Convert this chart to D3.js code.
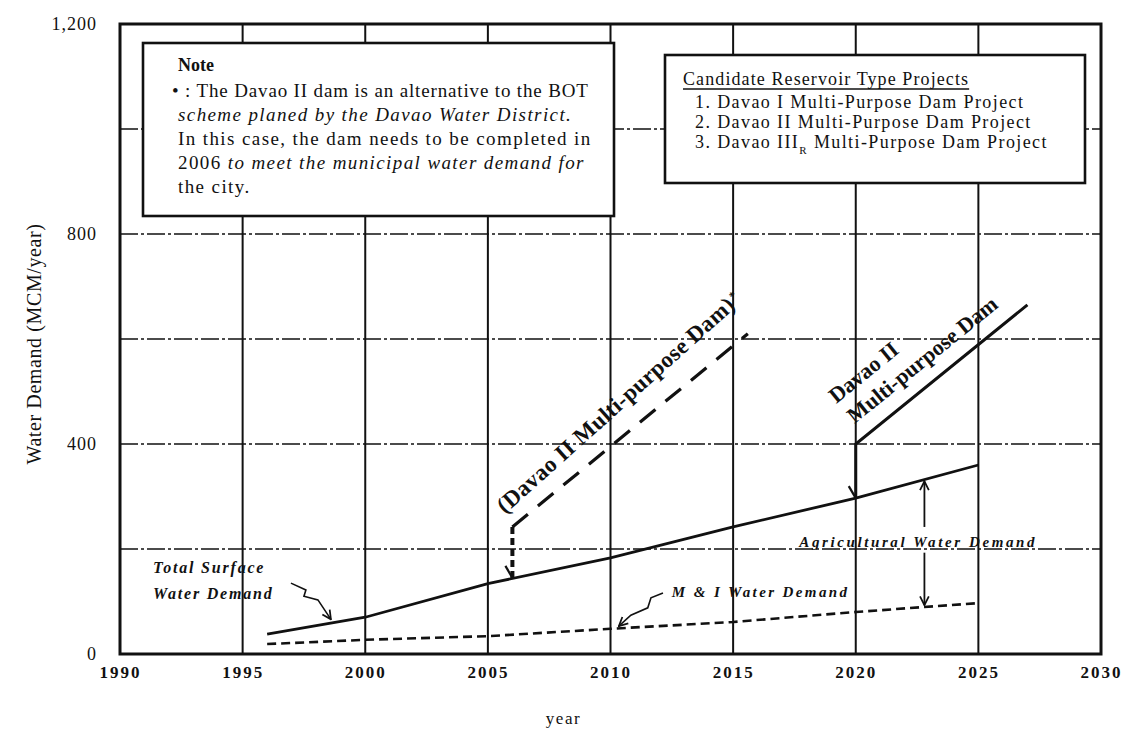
<!DOCTYPE html>
<html>
<head>
<meta charset="utf-8">
<script src="https://cdn.jsdelivr.net/npm/d3@7"></script>
<style>
  body { margin: 0; background: #fff; }
  svg { display: block; }
  text { font-family: "Liberation Serif", "Times New Roman", serif; fill: #111; }
</style>
</head>
<body>
<svg id="chart" width="1129" height="755"></svg>
<script>
// ---- data ----
const xTickYears = [1990, 1995, 2000, 2005, 2010, 2015, 2020, 2025, 2030];
const yTickValues = [0, 400, 800, 1200];
const yGridValues = [200, 400, 600, 800, 1000];

const demandYears = [1996, 2000, 2005, 2010, 2015, 2020, 2025];
const totalSurfaceDemand = [38, 70, 134, 183, 242, 297, 360];
const miDemand = [19, 27, 34, 48, 61, 80, 97];

// Davao II dam as the alternative to the BOT scheme (completed 2006)
const altDamYears = [2006, 2006, 2015.6];
const altDamDemand = [145, 242, 610];

// Davao II multi-purpose dam (2020)
const damYears = [2020, 2020, 2027];
const damDemand = [297, 400, 665];

// squiggly leader arrows, [year, MCM/year]
const totalLeader = [[1996.97, 135], [1997.58, 122], [1997.5, 110], [1998.07, 103], [1998.6, 66]];
const miLeader = [[2012.14, 116], [2011.65, 107], [2011.52, 88], [2010.83, 74], [2010.34, 53]];
// agricultural demand span arrows
const agriYear = 2022.8;
const agriUp = [242, 329];
const agriDown = [193, 93];

const noteTitle = "Note";
const noteLines = [
  [["\u2022 : The  Davao II dam is an alternative to the BOT", false]],
  [["scheme planed by the Davao Water District.", true]],
  [["In this case, the dam needs to be completed in", false]],
  [["2006 ", false], ["to meet the municipal water demand for", true]],
  [["the city.", false]]
];

const projectTitle = "Candidate Reservoir Type Projects";
const projectItems = [
  ["1.  Davao I Multi-Purpose Dam Project", ""],
  ["2.  Davao II Multi-Purpose Dam Project", ""],
  ["3.  Davao III", "R", " Multi-Purpose Dam Project"]
];

// ---- scales ----
const svg = d3.select("#chart");
const x = d3.scaleLinear().domain([1990, 2030]).range([120, 1101]);
const y = d3.scaleLinear().domain([0, 1200]).range([654, 24]);
const ink = "#111";

// arrowhead marker
const defs = svg.append("defs");
defs.append("marker")
  .attr("id", "open-arrow")
  .attr("viewBox", "0 0 10 10")
  .attr("refX", 9).attr("refY", 5)
  .attr("markerWidth", 11).attr("markerHeight", 11)
  .attr("markerUnits", "userSpaceOnUse")
  .attr("orient", "auto")
  .append("path")
  .attr("d", "M1,1 L9,5 L1,9")
  .attr("fill", "none").attr("stroke", ink).attr("stroke-width", 1.6);

// ---- grid ----
svg.append("g").selectAll("line")
  .data(xTickYears.slice(1, -1)).join("line")
  .attr("x1", d => x(d)).attr("x2", d => x(d))
  .attr("y1", y(0)).attr("y2", y(1200))
  .attr("stroke", ink).attr("stroke-width", 2);

svg.append("g").selectAll("line")
  .data(yGridValues).join("line")
  .attr("x1", x(1990)).attr("x2", x(2030))
  .attr("y1", d => y(d)).attr("y2", d => y(d))
  .attr("stroke", ink).attr("stroke-width", 1.4)
  .attr("stroke-dasharray", "18,3,3,3");

// plot frame
svg.append("rect")
  .attr("x", x(1990)).attr("y", y(1200))
  .attr("width", x(2030) - x(1990)).attr("height", y(0) - y(1200))
  .attr("fill", "none").attr("stroke", ink).attr("stroke-width", 3);

// ---- axes ----
const xAxisG = svg.append("g")
  .attr("transform", `translate(0,${y(0)})`)
  .call(d3.axisBottom(x).tickValues(xTickYears).tickSize(0).tickPadding(12).tickFormat(d3.format("d")));
xAxisG.select(".domain").remove();
xAxisG.selectAll("text")
  .attr("font-family", "Liberation Serif").attr("font-size", 17)
  .attr("font-weight", "bold").attr("letter-spacing", 2).attr("fill", ink);

const yAxisG = svg.append("g")
  .attr("transform", `translate(${x(1990)},0)`)
  .call(d3.axisLeft(y).tickValues(yTickValues).tickSize(0).tickPadding(23).tickFormat(d3.format(",")));
yAxisG.select(".domain").remove();
yAxisG.selectAll("text")
  .attr("font-family", "Liberation Serif").attr("font-size", 18)
  .attr("letter-spacing", 1).attr("fill", ink);

svg.append("text")
  .attr("transform", `translate(41,${(y(0) + y(1200)) / 2 + 5}) rotate(-90)`)
  .attr("text-anchor", "middle").attr("font-size", 20).attr("letter-spacing", 0.6)
  .text("Water Demand  (MCM/year)");

svg.append("text")
  .attr("x", (x(1990) + x(2030)) / 2 - 47).attr("y", 724)
  .attr("text-anchor", "middle").attr("font-size", 17).attr("letter-spacing", 1.5)
  .text("year");

// ---- demand lines ----
const line = d3.line().x(d => x(d[0])).y(d => y(d[1]));

svg.append("path")
  .datum(d3.zip(demandYears, totalSurfaceDemand))
  .attr("d", line).attr("fill", "none").attr("stroke", ink).attr("stroke-width", 2.8);

svg.append("path")
  .datum(d3.zip(demandYears, miDemand))
  .attr("d", line).attr("fill", "none").attr("stroke", ink).attr("stroke-width", 2.6)
  .attr("stroke-dasharray", "9,5");

// alternative dam: heavy short-dashed riser then long dashes
const alt = d3.zip(altDamYears, altDamDemand);
svg.append("path").datum(alt.slice(0, 2))
  .attr("d", line).attr("fill", "none").attr("stroke", ink).attr("stroke-width", 4)
  .attr("stroke-dasharray", "7,4");
svg.append("path").datum(alt.slice(1))
  .attr("d", line).attr("fill", "none").attr("stroke", ink).attr("stroke-width", 3.2)
  .attr("stroke-dasharray", "20,13");

// dam: solid riser then line
svg.append("path").datum(d3.zip(damYears, damDemand))
  .attr("d", line).attr("fill", "none").attr("stroke", ink).attr("stroke-width", 3);

// barbs where each riser meets the total demand line
[[altDamYears[0], altDamDemand[0]], [damYears[0], damDemand[0]]].forEach(([yr, v]) => {
  const px = x(yr), py = y(v);
  svg.append("path")
    .attr("d", `M${px - 7},${py - 12} L${px},${py}`)
    .attr("stroke", ink).attr("stroke-width", 2.2).attr("fill", "none");
});

// ---- leader arrows ----
[totalLeader, miLeader].forEach(pts => {
  svg.append("path").datum(pts)
    .attr("d", line).attr("fill", "none").attr("stroke", ink).attr("stroke-width", 1.6)
    .attr("marker-end", "url(#open-arrow)");
});
[agriUp, agriDown].forEach(([a, b]) => {
  svg.append("path").datum([[agriYear, a], [agriYear, b]])
    .attr("d", line).attr("fill", "none").attr("stroke", ink).attr("stroke-width", 1.8)
    .attr("marker-end", "url(#open-arrow)");
});

// ---- curve labels ----
function italicLabel(px, py, txt, size, spacing) {
  svg.append("text").attr("x", px).attr("y", py)
    .attr("font-style", "italic").attr("font-weight", "bold").attr("font-size", size)
    .attr("letter-spacing", spacing).text(txt);
}
italicLabel(x(1991.35), y(154), "Total Surface", 16, 1.8);
italicLabel(x(1991.35), y(104), "Water Demand", 16, 1.8);
italicLabel(x(2012.5), y(108), "M & I Water Demand", 15, 2.4);
italicLabel(x(2017.7), y(204), "Agricultural Water Demand", 15, 2.6);

// rotated dam labels following the line slope
function slopeAngle(xs, vs) {
  return Math.atan2(y(vs[2]) - y(vs[1]), x(xs[2]) - x(xs[1])) * 180 / Math.PI;
}
const altAngle = slopeAngle(altDamYears, altDamDemand) - 2.5;
const altLabel = svg.append("text")
  .attr("transform", `translate(${x(2005.7)},${y(266)}) rotate(${altAngle})`)
  .attr("font-weight", "bold").attr("font-size", 23).attr("letter-spacing", 0.3);
altLabel.append("tspan").text("(Davao II Multi-purpose Dam)");
altLabel.append("tspan").attr("dx", 2).attr("baseline-shift", "super").attr("font-size", 12).text("*");

const damAngle = slopeAngle(damYears, damDemand);
svg.append("text")
  .attr("transform", `translate(${x(2019.2)},${y(476)}) rotate(${damAngle})`)
  .attr("font-weight", "bold").attr("font-size", 22).text("Davao II");
svg.append("text")
  .attr("transform", `translate(${x(2019.95)},${y(438)}) rotate(${damAngle})`)
  .attr("font-weight", "bold").attr("font-size", 22).text("Multi-purpose Dam");

// ---- note box ----
svg.append("rect").attr("x", 143).attr("y", 43).attr("width", 471).attr("height", 173)
  .attr("fill", "#fff").attr("stroke", ink).attr("stroke-width", 2.6);
svg.append("text").attr("x", 178).attr("y", 71)
  .attr("font-size", 18).attr("font-weight", "bold").text(noteTitle);
noteLines.forEach((segs, i) => {
  const t = svg.append("text")
    .attr("x", i === 0 ? 172 : 178).attr("y", 97 + i * 24)
    .attr("font-size", 19).attr("letter-spacing", i === 0 ? 0.85 : 1.4);
  segs.forEach(([s, it]) => t.append("tspan").attr("font-style", it ? "italic" : "normal").text(s));
});

// ---- candidate projects box ----
svg.append("rect").attr("x", 665).attr("y", 55).attr("width", 420).attr("height", 128)
  .attr("fill", "#fff").attr("stroke", ink).attr("stroke-width", 2.6);
const titleText = svg.append("text").attr("x", 683).attr("y", 85)
  .attr("font-size", 18).attr("letter-spacing", 1.1).text(projectTitle);
const tb = titleText.node().getBBox();
svg.append("line").attr("x1", tb.x).attr("x2", tb.x + tb.width)
  .attr("y1", 89).attr("y2", 89).attr("stroke", ink).attr("stroke-width", 1.4);
projectItems.forEach((item, i) => {
  const t = svg.append("text").attr("x", 695).attr("y", 108 + i * 20)
    .attr("font-size", 18).attr("letter-spacing", 1.4);
  t.append("tspan").text(item[0]);
  if (item[1]) {
    t.append("tspan").attr("baseline-shift", "sub").attr("font-size", 11).text(item[1]);
    t.append("tspan").text(item[2]);
  }
});
</script>
</body>
</html>
